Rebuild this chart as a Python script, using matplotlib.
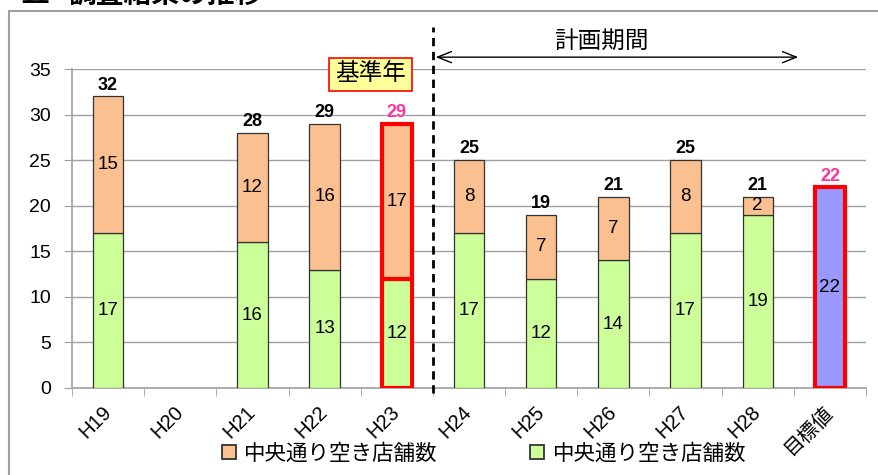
import numpy as np
import matplotlib
matplotlib.use('Agg')
import matplotlib.pyplot as plt
from matplotlib.patches import Rectangle, Patch

plt.rcParams['font.family'] = ['Liberation Sans', 'Noto Sans CJK JP']

#%% data
years = ['H19', 'H20', 'H21', 'H22', 'H23', 'H24', 'H25', 'H26', 'H27', 'H28', '目標値']
green = [17, None, 16, 13, 12, 17, 12, 14, 17, 19]   # lower part
orange = [15, None, 12, 16, 17, 8, 7, 7, 8, 2]       # upper part
target = 22
base_idx = 4
legend_labels = ['中央通り空き店舗数', '中央通り空き店舗数']

c_orange = '#FAC090'
c_green = '#CCFF99'
c_blue = '#9999FF'
c_pink = '#FF3399'
c_grid = '#A0A0A0'

fig = plt.figure(figsize=(8.79, 4.75), dpi=100)

# outer frame (cut at right / bottom edge like the screenshot)
fig.patches.append(Rectangle((9/879, -0.2), 1.2, 0.2 + 1 - 11/475, transform=fig.transFigure,
                             fill=False, ec=c_grid, lw=1.5))
# title, mostly cut off at the top
fig.text(20/879, 1 - 3/475, '11', fontsize=20, fontweight='bold', va='baseline')
fig.text(68/879, 1 - 3/475, '調査結果の推移', fontsize=20, fontweight='bold', va='baseline')

ax = fig.add_axes([72/879, 1 - 388/475, (866 - 72)/879, (388 - 69)/475])

w = 0.42
for i in range(len(green)):
    if green[i] is None:
        continue
    if i == base_idx:
        ec, lw = 'red', 3
    else:
        ec, lw = '#333333', 0.9
    ax.bar(i, green[i], w, color=c_green, edgecolor=ec, lw=lw, zorder=3)
    ax.bar(i, orange[i], w, bottom=green[i], color=c_orange, edgecolor=ec, lw=lw, zorder=3)
    ax.text(i, green[i]/2, str(green[i]), ha='center', va='center', fontsize=13.5, zorder=4)
    ax.text(i, green[i] + orange[i]/2, str(orange[i]), ha='center', va='center', fontsize=13.5, zorder=4)
    tot = green[i] + orange[i]
    ax.annotate(str(tot), (i, tot), xytext=(0, 2), textcoords='offset points',
                ha='center', va='bottom', fontsize=13, fontweight='bold',
                color=c_pink if i == base_idx else 'black')

# target bar
ti = len(years) - 1
ax.bar(ti, target, w, color=c_blue, edgecolor='red', lw=3, zorder=3)
ax.text(ti, target/2, str(target), ha='center', va='center', fontsize=13.5, zorder=4)
ax.annotate(str(target), (ti, target), xytext=(0, 2), textcoords='offset points',
            ha='center', va='bottom', fontsize=13, fontweight='bold', color=c_pink)

# axes styling
ax.set_xlim(-0.5, len(years) - 0.5)
ax.set_ylim(0, 35)
ax.set_yticks(range(0, 36, 5))
ax.yaxis.grid(True, color=c_grid, lw=1)
ax.set_axisbelow(True)
for s in ['top', 'right']:
    ax.spines[s].set_visible(False)
for s in ['left', 'bottom']:
    ax.spines[s].set_color(c_grid)
    ax.spines[s].set_linewidth(1.2)
ax.tick_params(axis='y', labelsize=14, length=6, color=c_grid, pad=9)
ax.set_xticks(range(len(years)))
ax.set_xticklabels(years, rotation=45, ha='right', va='center', rotation_mode='anchor', fontsize=14.5)
ax.set_xticks(np.arange(-0.5, len(years)), minor=True)
ax.tick_params(axis='x', which='major', length=0, pad=15)
ax.tick_params(axis='x', which='minor', length=6, color=c_grid)

# plan period marker
ax.plot([4.5, 4.5], [-0.6, 39.6], color='black', ls='--', dashes=(3, 2), lw=2, clip_on=False, zorder=5)
ax.annotate('', xy=(4.5, 36.3), xytext=(9.6, 36.3),
            arrowprops=dict(arrowstyle='<->, head_length=1.0, head_width=0.4', lw=1, color='black'),
            annotation_clip=False)
ax.text(6.83, 38.0, '計画期間', ha='center', va='center', fontsize=17, clip_on=False)

ax.text(3.64, 34.4, '基準年', ha='center', va='center', fontsize=17, zorder=6,
        bbox=dict(boxstyle='square,pad=0.25', fc='#FFFF99', ec='red', lw=1.2))

# legend
handles = [Patch(fc=c_orange, ec='#333333', lw=1.3), Patch(fc=c_green, ec='#333333', lw=1.3)]
fig.legend(handles, legend_labels, loc='center', bbox_to_anchor=(484/879, 1 - 454/475),
           ncol=2, frameon=False, fontsize=15.5, handlelength=0.65, handleheight=0.65,
           handletextpad=0.4, columnspacing=4.3)

fig.savefig('out.png', dpi=100)
